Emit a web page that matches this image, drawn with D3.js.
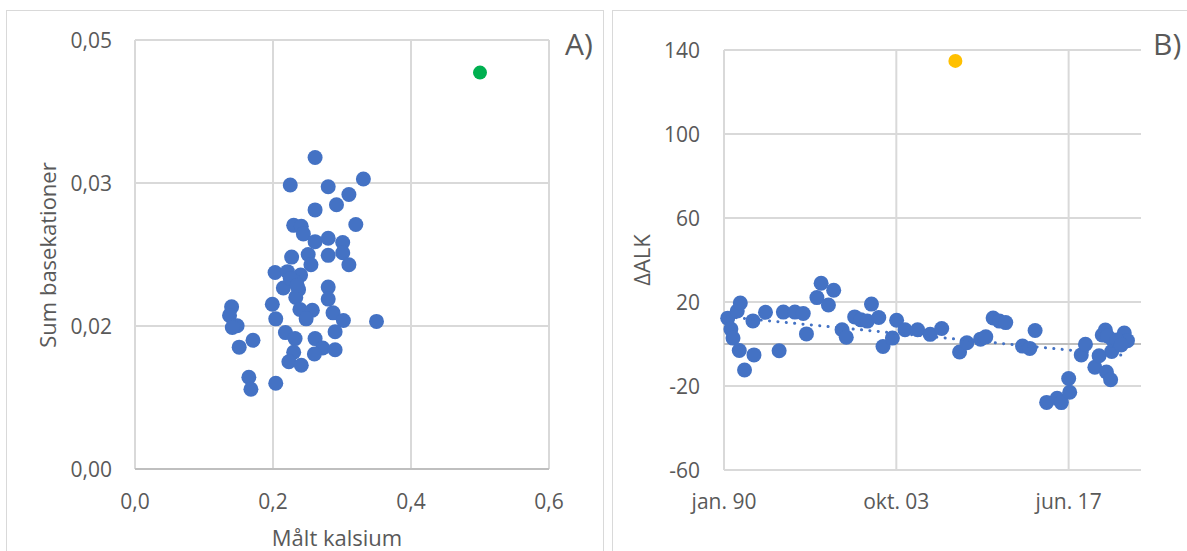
<!DOCTYPE html>
<html>
<head>
<meta charset="utf-8">
<script src="https://cdn.jsdelivr.net/npm/d3@7"></script>
<style>
  body { margin: 0; background: #fff; }
  text { font-family: "Open Sans", sans-serif; fill: #595959; }
</style>
</head>
<body>
<div id="container"></div>
<script>
/**
 * DATA
 * */
// panel A: målt kalsium (x) vs sum basekationer (y)
const calcium = [0.261, 0.225, 0.280, 0.331, 0.310, 0.292, 0.261, 0.320, 0.230, 0.241,
  0.244, 0.261, 0.280, 0.301, 0.280, 0.301, 0.227, 0.251, 0.255, 0.310,
  0.203, 0.221, 0.240, 0.230, 0.215, 0.237, 0.233, 0.280, 0.280, 0.199,
  0.140, 0.137, 0.239, 0.257, 0.248, 0.287, 0.302, 0.350, 0.204, 0.148,
  0.141, 0.290, 0.218, 0.232, 0.261, 0.171, 0.151, 0.230, 0.272, 0.290,
  0.260, 0.223, 0.241, 0.165, 0.168, 0.204, 0.225, 0.235]
const baseCations = [0.0363, 0.0331, 0.0329, 0.0338, 0.0320, 0.0308, 0.0302, 0.0285, 0.0284, 0.0283,
  0.0274, 0.0265, 0.0269, 0.0264, 0.0249, 0.0252, 0.0247, 0.0250, 0.0238, 0.0238,
  0.0229, 0.0230, 0.0226, 0.0219, 0.0211, 0.0209, 0.0200, 0.0212, 0.0198, 0.0192,
  0.0189, 0.0179, 0.0186, 0.0185, 0.0175, 0.0182, 0.0173, 0.0172, 0.0175, 0.0167,
  0.0165, 0.0160, 0.0159, 0.0152, 0.0152, 0.0150, 0.0142, 0.0136, 0.0141, 0.0139,
  0.0134, 0.0125, 0.0121, 0.0107, 0.0093, 0.0100, 0.0222, 0.0214]
const calciumOutlier = [0.5]
const baseCationsOutlier = [0.0462]

// panel B: ΔALK over time
const sampleDates = ['1990-05', '1990-08', '1990-10', '1991-02', '1991-05', '1991-04', '1991-09', '1992-06', '1992-05', '1993-05',
  '1994-06', '1994-10', '1995-09', '1996-05', '1996-08', '1997-06', '1997-10', '1998-05', '1998-10', '1999-06',
  '1999-10', '2000-06', '2000-12', '2001-06', '2001-10', '2002-05', '2002-09', '2003-06', '2003-10', '2004-06',
  '2005-06', '2006-06', '2007-05', '2008-10', '2009-05', '2010-06', '2010-11', '2011-06', '2011-12', '2012-06',
  '2013-10', '2014-05', '2014-10', '2015-09', '2016-07', '2016-11', '2017-07', '2017-06', '2018-06', '2018-10',
  '2019-07', '2019-11', '2020-02', '2020-05', '2020-06', '2020-10', '2020-11', '2020-12', '2021-11', '2022-02',
  '2020-07', '2021-04', '2021-08']
const deltaAlk = [12.3, 7.1, 2.8, 15.7, 19.5, -3.1, -12.4, -5.2, 11.0, 15.1,
  -3.2, 15.2, 15.2, 14.5, 4.8, 22.1, 28.9, 18.6, 25.6, 6.8,
  3.2, 12.9, 11.5, 10.9, 19.0, 12.6, -1.2, 2.8, 11.3, 6.8,
  6.8, 4.6, 7.4, -3.8, 0.6, 2.3, 3.4, 12.4, 10.9, 10.2,
  -1.0, -2.1, 6.4, -27.8, -25.8, -27.9, -23.0, -16.4, -5.2, -0.1,
  -11.1, -5.6, 4.3, 6.7, -13.3, -17.0, -3.6, 1.9, 5.2, 1.6,
  3.8, 1.9, -0.5]
const outlierDates = ['2008-06']
const deltaAlkOutlier = [134.8]

// axis ticks
const ticksA_x = [0, 0.2, 0.4, 0.6]
const ticksA_y = [0, 0.05 / 3, 0.1 / 3, 0.05]
const ticksB_x = ['1990-01-27', '2003-10-06', '2017-06-14']
const ticksB_xLabels = ['jan. 90', 'okt. 03', 'jun. 17']
const ticksB_y = [-60, -20, 20, 60, 100, 140]

/**
 * CONSTANTS
 * */
const width = 1187, height = 551
const blue = '#4472C4', green = '#00B050', orange = '#FFC000'
const gridColor = '#d9d9d9', axisColor = '#bfbfbf'
const parseMonth = d3.timeParse('%Y-%m')
const parseDay = d3.timeParse('%Y-%m-%d')
const midMonth = s => d3.timeDay.offset(parseMonth(s), 14)
const comma = f => v => d3.format(f)(v).replace('.', ',')

const svg = d3.select('#container')
  .append('svg')
  .attr('width', width)
  .attr('height', height)

// panel frames
svg.append('rect').attr('x', 6.5).attr('y', 10.5).attr('width', 597).attr('height', 600)
  .attr('fill', 'none').attr('stroke', gridColor)
svg.append('rect').attr('x', 612.5).attr('y', 10.5).attr('width', 600).attr('height', 600)
  .attr('fill', 'none').attr('stroke', gridColor)

/**
 * PANEL A
 * */
const xA = d3.scaleLinear().domain([0, 0.6]).range([135, 549])
const yA = d3.scaleLinear().domain([0, 0.05]).range([469, 40])
const gA = svg.append('g')

gA.selectAll('.vgrid').data(ticksA_x).join('line')
  .attr('class', 'vgrid')
  .attr('x1', d => xA(d)).attr('x2', d => xA(d))
  .attr('y1', yA(0)).attr('y2', yA(0.05))
  .attr('stroke', gridColor).attr('stroke-width', 2)
gA.selectAll('.hgrid').data(ticksA_y).join('line')
  .attr('class', 'hgrid')
  .attr('x1', xA(0)).attr('x2', xA(0.6))
  .attr('y1', d => yA(d)).attr('y2', d => yA(d))
  .attr('stroke', d => d === 0 ? axisColor : gridColor).attr('stroke-width', 2)

gA.selectAll('.xlab').data(ticksA_x).join('text')
  .attr('class', 'xlab')
  .attr('x', d => xA(d)).attr('y', 501)
  .attr('text-anchor', 'middle').attr('dominant-baseline', 'central')
  .style('font-size', '21px')
  .text(comma('.1f'))
gA.selectAll('.ylab').data(ticksA_y).join('text')
  .attr('class', 'ylab')
  .attr('x', 112).attr('y', d => yA(d))
  .attr('text-anchor', 'end').attr('dominant-baseline', 'central')
  .style('font-size', '21px')
  .text(comma('.2f'))

gA.append('text')
  .attr('x', 337).attr('y', 546)
  .attr('text-anchor', 'middle')
  .style('font-size', '22px')
  .text('Målt kalsium')
gA.append('text')
  .attr('transform', 'translate(56,255) rotate(-90)')
  .attr('text-anchor', 'middle')
  .style('font-size', '22px')
  .text('Sum basekationer')
gA.append('text')
  .attr('x', 565).attr('y', 55)
  .style('font-size', '30px')
  .text('A)')

gA.selectAll('.ptA').data(d3.zip(calcium, baseCations)).join('circle')
  .attr('class', 'ptA')
  .attr('cx', d => xA(d[0])).attr('cy', d => yA(d[1]))
  .attr('r', 7.5).attr('fill', blue)
gA.selectAll('.ptAo').data(d3.zip(calciumOutlier, baseCationsOutlier)).join('circle')
  .attr('class', 'ptAo')
  .attr('cx', d => xA(d[0])).attr('cy', d => yA(d[1]))
  .attr('r', 7).attr('fill', green)

/**
 * PANEL B
 * */
const xB = d3.scaleTime()
  .domain([parseDay('1990-01-27'), parseDay('2023-03-15')])
  .range([724, 1141])
const yB = d3.scaleLinear().domain([-60, 140]).range([470, 50])
const gB = svg.append('g')

gB.selectAll('.vgrid').data(ticksB_x).join('line')
  .attr('class', 'vgrid')
  .attr('x1', d => xB(parseDay(d))).attr('x2', d => xB(parseDay(d)))
  .attr('y1', yB(-60)).attr('y2', yB(140))
  .attr('stroke', gridColor).attr('stroke-width', 2)
gB.selectAll('.hgrid').data(ticksB_y).join('line')
  .attr('class', 'hgrid')
  .attr('x1', xB.range()[0]).attr('x2', xB.range()[1])
  .attr('y1', d => yB(d)).attr('y2', d => yB(d))
  .attr('stroke', gridColor).attr('stroke-width', 2)
// horizontal axis line at 0
gB.append('line')
  .attr('x1', xB.range()[0]).attr('x2', xB.range()[1])
  .attr('y1', yB(0)).attr('y2', yB(0))
  .attr('stroke', axisColor).attr('stroke-width', 2)

gB.selectAll('.xlab').data(ticksB_x).join('text')
  .attr('class', 'xlab')
  .attr('x', d => xB(parseDay(d))).attr('y', 501)
  .attr('text-anchor', 'middle').attr('dominant-baseline', 'central')
  .style('font-size', '21px')
  .text((d, i) => ticksB_xLabels[i])
gB.selectAll('.ylab').data(ticksB_y).join('text')
  .attr('class', 'ylab')
  .attr('x', 700).attr('y', d => yB(d))
  .attr('text-anchor', 'end').attr('dominant-baseline', 'central')
  .style('font-size', '21px')
  .text(d => d)

gB.append('text')
  .attr('transform', 'translate(650,260) rotate(-90)')
  .attr('text-anchor', 'middle')
  .style('font-size', '22px')
  .text('ΔALK')
gB.append('text')
  .attr('x', 1153).attr('y', 55)
  .style('font-size', '30px')
  .text('B)')

const seriesB = d3.zip(sampleDates.map(midMonth), deltaAlk)

// linear trend (least squares) over the blue series
const xs = seriesB.map(d => +d[0]), ys = seriesB.map(d => d[1])
const mx = d3.mean(xs), my = d3.mean(ys)
const slope = d3.sum(xs, (x, i) => (x - mx) * (ys[i] - my)) / d3.sum(xs, x => (x - mx) ** 2)
const trendEnds = d3.extent(xs).map(x => [new Date(x), my + slope * (x - mx)])

gB.selectAll('.ptB').data(seriesB).join('circle')
  .attr('class', 'ptB')
  .attr('cx', d => xB(d[0])).attr('cy', d => yB(d[1]))
  .attr('r', 7.5).attr('fill', blue)

gB.append('path')
  .datum(trendEnds)
  .attr('d', d3.line().x(d => xB(d[0])).y(d => yB(d[1])))
  .attr('fill', 'none').attr('stroke', blue)
  .attr('stroke-width', 3).attr('stroke-linecap', 'round')
  .attr('stroke-dasharray', '0.1 8.3')

gB.selectAll('.ptBo').data(d3.zip(outlierDates.map(midMonth), deltaAlkOutlier)).join('circle')
  .attr('class', 'ptBo')
  .attr('cx', d => xB(d[0])).attr('cy', d => yB(d[1]))
  .attr('r', 7).attr('fill', orange)
</script>
</body>
</html>
